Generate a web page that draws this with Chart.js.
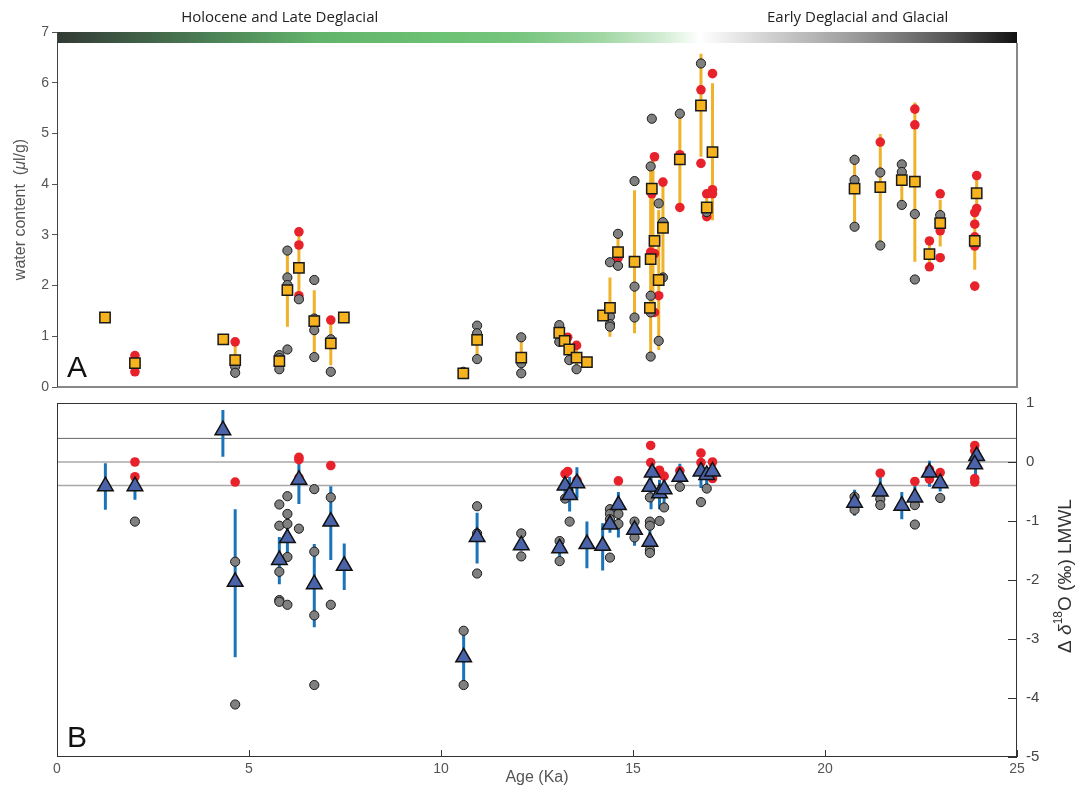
<!DOCTYPE html>
<html>
<head>
<meta charset="utf-8">
<script src="https://cdn.jsdelivr.net/npm/chart.js@4.4.0/dist/chart.umd.min.js"></script>
<style>
  body { margin: 0; background: #fff; width: 1077px; height: 791px; position: relative; overflow: hidden; }
  canvas { position: absolute; left: 0; }
  #chartA { top: 0; }
  #chartB { top: 385px; }
</style>
</head>
<body>
<canvas id="chartA" width="1077" height="400"></canvas>
<canvas id="chartB" width="1077" height="406"></canvas>
<script>
// eixos
const xTicks = [0, 5, 10, 15, 20, 25];
const yTicksA = [0, 1, 2, 3, 4, 5, 6, 7];
const yTicksB = [-5, -4, -3, -2, -1, 0, 1];
const refLevels = [0.4, 0, -0.4];

// painel A - quadrados (média)
const sqAge = [1.25,2.03,4.33,4.64,5.79,6.00,6.30,6.70,7.13,7.47,10.58,10.94,12.09,13.08,13.22,13.34,13.53,13.80,14.22,14.40,
               14.61,15.04,15.49,15.46,15.44,15.56,15.67,15.78,16.22,16.77,17.07,16.92,20.77,21.44,22.00,22.34,22.72,23.00,23.95,23.90];
const sqVal = [1.37,0.47,0.94,0.53,0.51,1.91,2.35,1.30,0.86,1.37,0.27,0.93,0.58,1.07,0.91,0.74,0.58,0.49,1.41,1.56,
               2.66,2.47,3.91,2.52,1.56,2.88,2.11,3.14,4.49,5.55,4.63,3.54,3.91,3.94,4.08,4.05,2.62,3.23,3.82,2.88];

// painel A - barras de erro
const barAAge = [4.64,6.00,6.30,6.70,7.13,10.94,12.09,13.34,13.53,14.40,14.61,15.04,15.46,15.52,15.67,15.78,16.22,16.77,17.07,16.92,20.77,21.44,22.00,22.34,22.72,23.00,23.95,23.90];
const barALo  = [0.50,1.19,1.78,0.55,0.43,0.55,0.45,0.55,0.35,0.99,2.50,1.06,0.60,1.47,0.73,2.20,3.54,4.54,3.29,3.36,3.16,2.79,3.59,2.47,2.37,2.77,3.50,2.31];
const barAHi  = [0.89,2.65,3.06,1.91,1.30,1.21,0.98,0.90,0.80,2.16,3.02,3.88,4.42,4.54,3.49,4.04,5.39,6.57,5.99,3.80,4.58,4.99,4.48,5.61,2.88,3.69,4.17,3.50];

// painel A - amostras cinza e vermelhas
const greyA = [[4.64,0.40],[4.64,0.28],[5.79,0.63],[5.79,0.57],[5.79,0.35],[6.00,0.74],[6.00,2.69],[6.00,2.16],[6.00,2.01],
  [6.30,1.73],[6.70,2.11],[6.70,1.35],[6.70,1.12],[6.70,0.59],[7.13,0.94],[7.13,0.30],[10.58,0.30],[10.94,1.21],[10.94,1.06],
  [10.94,0.55],[12.09,0.98],[12.09,0.27],[12.09,0.47],[13.08,1.22],[13.08,0.89],[13.34,0.53],[13.53,0.35],[14.40,1.39],
  [14.40,1.24],[14.40,1.19],[14.40,2.46],[14.61,3.02],[14.61,2.39],[15.04,4.06],[15.04,1.98],[15.04,1.37],[15.46,4.35],
  [15.46,1.80],[15.46,1.47],[15.46,0.60],[15.49,5.29],[15.67,3.62],[15.67,0.91],[15.78,3.25],[15.78,2.16],[16.22,5.39],
  [16.77,6.38],[16.92,3.45],[20.77,4.48],[20.77,4.08],[20.77,3.16],[21.44,4.23],[21.44,2.79],[22.00,4.39],[22.00,4.24],
  [22.00,3.59],[22.34,3.41],[22.34,2.12],[23.00,3.39]];
const redA = [[2.03,0.62],[2.03,0.30],[4.64,0.89],[6.30,3.06],[6.30,2.80],[6.30,1.80],[7.13,1.32],[13.30,0.98],[13.53,0.82],
  [14.61,2.54],[15.56,4.54],[15.49,3.81],[15.46,2.66],[15.56,2.63],[15.67,1.80],[15.56,1.47],[15.78,4.04],[16.22,4.58],
  [16.22,3.54],[16.77,5.86],[16.77,4.41],[17.07,6.18],[17.07,3.89],[17.07,3.81],[16.92,3.81],[16.92,3.36],[21.44,4.83],
  [22.34,5.48],[22.34,5.17],[22.72,2.88],[22.72,2.37],[23.00,3.81],[23.00,3.08],[23.00,2.55],[23.95,4.17],[23.95,3.52],
  [23.90,3.44],[23.90,3.21],[23.90,2.96],[23.90,2.78],[23.90,1.99]];

// painel B - triângulos (média)
const triAge = [1.26,2.03,4.32,4.64,5.79,6.00,6.30,6.70,7.13,7.48,10.59,10.94,12.09,13.09,13.23,13.35,13.54,13.80,14.21,14.40,
                14.62,15.04,15.44,15.50,15.44,15.69,15.81,16.22,16.77,16.92,17.07,20.77,21.44,22.00,22.34,22.72,23.00,23.95,23.90];
const triVal = [-0.41,-0.41,0.54,-2.03,-1.66,-1.29,-0.30,-2.07,-1.01,-1.76,-3.31,-1.27,-1.41,-1.46,-0.40,-0.56,-0.36,-1.39,-1.42,-1.06,
                -0.73,-1.15,-1.35,-0.18,-0.42,-0.53,-0.46,-0.25,-0.16,-0.22,-0.16,-0.69,-0.50,-0.74,-0.60,-0.18,-0.36,0.10,-0.04];

// painel B - barras de erro
const barBAge = [1.26,2.03,4.32,4.64,5.79,6.00,6.30,6.70,7.13,7.48,10.59,10.94,12.09,13.09,13.23,13.35,13.54,13.80,14.21,14.40,
                 14.62,15.04,15.44,15.47,15.69,15.81,16.22,16.77,16.92,17.07,20.77,21.44,22.00,22.34,22.72,23.00,23.92];
const barBLo  = [-0.81,-0.64,0.09,-3.31,-2.07,-1.55,-0.71,-2.80,-1.66,-2.17,-3.78,-1.72,-1.50,-1.60,-0.62,-0.84,-0.62,-1.80,-1.84,-1.20,
                 -1.28,-1.42,-1.50,-0.80,-0.80,-0.70,-0.42,-0.44,-0.45,-0.35,-0.91,-0.73,-0.97,-0.80,-0.42,-0.50,-0.28];
const barBHi  = [-0.02,-0.28,0.88,-0.80,-1.27,-0.92,-0.02,-1.39,-0.41,-1.38,-2.86,-0.86,-1.30,-1.27,-0.20,-0.25,-0.09,-1.01,-1.04,-0.90,
                 -0.51,-1.00,-1.10,-0.10,-0.30,-0.30,-0.03,-0.01,-0.20,-0.05,-0.47,-0.23,-0.51,-0.40,0.02,-0.25,0.19];

// painel B - amostras cinza e vermelhas
const greyB = [[2.03,-1.01],[4.64,-1.69],[4.64,-4.11],[5.79,-0.72],[5.79,-1.08],[5.79,-1.86],[5.79,-2.34],[5.79,-2.37],
  [6.00,-0.58],[6.00,-0.88],[6.00,-1.05],[6.00,-1.61],[6.00,-2.42],[6.30,-1.13],[6.70,-0.46],[6.70,-1.52],[6.70,-2.60],
  [6.70,-3.78],[7.13,-0.60],[7.13,-2.42],[10.59,-2.86],[10.59,-3.78],[10.94,-0.75],[10.94,-1.21],[10.94,-1.89],[12.09,-1.21],
  [12.09,-1.60],[13.09,-1.34],[13.09,-1.68],[13.23,-0.62],[13.35,-1.01],[14.40,-0.80],[14.40,-0.88],[14.40,-0.97],[14.40,-1.62],
  [14.62,-0.88],[14.62,-1.05],[15.04,-1.01],[15.04,-1.28],[15.44,-1.01],[15.44,-1.08],[15.44,-1.49],[15.44,-1.54],[15.44,-0.60],
  [15.69,-1.00],[15.81,-0.77],[15.81,-0.45],[16.22,-0.42],[16.77,-0.68],[16.92,-0.45],[20.77,-0.59],[20.77,-0.81],[21.44,-0.63],
  [21.44,-0.73],[22.34,-0.73],[22.34,-1.06],[23.00,-0.61]];
const redB = [[2.03,0.00],[2.03,-0.25],[4.64,-0.34],[6.30,0.08],[6.30,0.04],[6.30,-0.27],[7.13,-0.06],[13.23,-0.20],[13.30,-0.16],
  [13.54,-0.31],[14.62,-0.32],[15.46,0.28],[15.46,-0.01],[15.69,-0.14],[15.81,-0.24],[16.22,-0.15],[16.77,0.15],[16.77,-0.01],
  [17.07,0.00],[17.07,-0.28],[21.44,-0.19],[22.34,-0.33],[22.72,-0.13],[22.72,-0.29],[23.00,-0.18],[23.90,0.28],[23.90,0.19],
  [23.90,-0.28],[23.90,-0.34]];

// helpers
function pts(pairs) { return pairs.map(p => ({ x: p[0], y: p[1] })); }
function zip(xs, ys) { return xs.map((x, i) => ({ x: x, y: ys[i] })); }
function bars(age, lo, hi) {
  const d = [];
  age.forEach((a, i) => { d.push({ x: a, y: lo[i] }, { x: a, y: hi[i] }, { x: a, y: null }); });
  return d;
}
function fixTicks(list) { return scale => { scale.ticks = list.map(v => ({ value: v })); }; }

const FONT = '"Liberation Sans", Arial, sans-serif';

function drawRotated(ctx, cx, cy, parts) {
  // parts: [texto, fonte, deslocamento vertical]
  ctx.save();
  ctx.translate(cx, cy);
  ctx.rotate(-Math.PI / 2);
  let w = 0;
  parts.forEach(p => { ctx.font = p[1]; w += ctx.measureText(p[0]).width; });
  let x = -w / 2;
  ctx.textAlign = 'left';
  ctx.textBaseline = 'middle';
  parts.forEach(p => { ctx.font = p[1]; ctx.fillText(p[0], x, p[2]); x += ctx.measureText(p[0]).width; });
  ctx.restore();
}

// plugin do painel A: barra de gradiente, moldura, títulos
const painelA = {
  id: 'painelA',
  afterDraw(chart) {
    const { ctx, chartArea: a, scales: { x } } = chart;
    ctx.save();
    const g = ctx.createLinearGradient(a.left, 0, a.right, 0);
    g.addColorStop(0.00, '#333a35');
    g.addColorStop(0.15, '#4a7c54');
    g.addColorStop(0.27, '#62b36b');
    g.addColorStop(0.40, '#6bc174');
    g.addColorStop(0.48, '#76c57e');
    g.addColorStop(0.57, '#a2d7a5');
    g.addColorStop(0.63, '#d2ecd3');
    g.addColorStop(0.67, '#ffffff');
    g.addColorStop(0.74, '#d2d2d2');
    g.addColorStop(0.83, '#9c9c9c');
    g.addColorStop(0.93, '#555555');
    g.addColorStop(1.00, '#111111');
    ctx.fillStyle = g;
    ctx.fillRect(a.left, a.top, a.right - a.left, 11);

    ctx.strokeStyle = '#888';
    ctx.lineWidth = 2;
    ctx.beginPath();
    ctx.moveTo(a.left, a.bottom);
    ctx.lineTo(a.right, a.bottom);
    ctx.lineTo(a.right, a.top + 11);
    ctx.stroke();
    ctx.strokeStyle = '#444';
    ctx.lineWidth = 1;
    ctx.beginPath();
    ctx.moveTo(a.left + 0.5, a.top);
    ctx.lineTo(a.left + 0.5, a.bottom);
    ctx.stroke();

    ctx.fillStyle = '#222';
    ctx.font = '15px "Open Sans", sans-serif';
    ctx.textAlign = 'center';
    ctx.textBaseline = 'middle';
    ctx.fillText('Holocene and Late Deglacial', x.getPixelForValue(5.8), 18);
    ctx.fillText('Early Deglacial and Glacial', x.getPixelForValue(20.85), 18);

    ctx.fillStyle = '#111';
    ctx.font = '30px ' + FONT;
    ctx.textAlign = 'left';
    ctx.textBaseline = 'alphabetic';
    ctx.fillText('A', a.left + 10, a.bottom - 10);

    ctx.fillStyle = '#555';
    drawRotated(ctx, 21, (a.top + a.bottom) / 2, [
      ['water content  (', '16px ' + FONT, 0],
      ['\u03bc', 'italic 16px ' + FONT, 0],
      ['l/g)', '16px ' + FONT, 0]
    ]);
    ctx.restore();
  }
};

// plugin do painel B: moldura, marcas internas, rótulos
const painelB = {
  id: 'painelB',
  afterDraw(chart) {
    const { ctx, chartArea: a, scales: { x, y } } = chart;
    ctx.save();
    ctx.strokeStyle = '#333';
    ctx.lineWidth = 1;
    ctx.strokeRect(a.left + 0.5, a.top + 0.5, a.right - a.left - 1, a.bottom - a.top - 1);
    ctx.beginPath();
    xTicks.forEach(v => {
      const px = Math.round(x.getPixelForValue(v)) + 0.5;
      ctx.moveTo(px, a.bottom); ctx.lineTo(px, a.bottom - 7);
    });
    yTicksB.forEach(v => {
      const py = Math.round(y.getPixelForValue(v)) + 0.5;
      ctx.moveTo(a.right, py); ctx.lineTo(a.right - 9, py);
    });
    ctx.stroke();

    ctx.fillStyle = '#111';
    ctx.font = '30px ' + FONT;
    ctx.textAlign = 'left';
    ctx.textBaseline = 'alphabetic';
    ctx.fillText('B', a.left + 10, a.bottom - 10);

    ctx.fillStyle = '#555';
    ctx.font = '16px ' + FONT;
    ctx.textAlign = 'center';
    ctx.textBaseline = 'middle';
    ctx.fillText('Age (Ka)', (a.left + a.right) / 2, a.bottom + 21);

    ctx.fillStyle = '#333';
    drawRotated(ctx, 1066, (a.top + a.bottom) / 2 - 4, [
      ['\u0394 ', '19px ' + FONT, 0],
      ['\u03b4', 'italic 19px ' + FONT, 0],
      ['18', '12px ' + FONT, -7],
      ['O (\u2030) LMWL', '19px ' + FONT, 0]
    ]);
    ctx.restore();
  }
};

const baseX = {
  type: 'linear', min: 0, max: 25,
  afterBuildTicks: fixTicks(xTicks),
  grid: { display: false, drawTicks: false },
  border: { display: false }
};

const chartA = new Chart(document.getElementById('chartA'), {
  type: 'scatter',
  data: {
    datasets: [
      { data: zip(sqAge, sqVal), pointStyle: 'rect', pointRadius: 7.3, backgroundColor: '#f6b31d', borderColor: '#1a1a1a', borderWidth: 1.5, order: 0 },
      { data: pts(greyA), pointRadius: 4.6, backgroundColor: '#808080', borderColor: '#1a1a1a', borderWidth: 1, order: 1 },
      { data: pts(redA), pointRadius: 4.8, backgroundColor: '#e8222b', borderWidth: 0, order: 2 },
      { data: bars(barAAge, barALo, barAHi), showLine: true, spanGaps: false, pointRadius: 0, borderColor: '#efb22a', borderWidth: 3, order: 3 }
    ]
  },
  options: {
    responsive: false,
    animation: false,
    devicePixelRatio: 1,
    layout: { padding: { top: 32, right: 60, left: 0, bottom: 0 } },
    plugins: { legend: { display: false }, tooltip: { enabled: false } },
    scales: {
      x: Object.assign({}, baseX, {
        ticks: { display: false },
        afterFit: s => { s.height = 13; }
      }),
      y: {
        type: 'linear', min: 0, max: 7,
        afterBuildTicks: fixTicks(yTicksA),
        afterFit: s => { s.width = 57; },
        ticks: { color: '#555', font: { family: FONT, size: 14 }, padding: 3 },
        grid: { display: true, drawOnChartArea: false, drawTicks: true, tickLength: 5, color: '#555' },
        border: { display: false }
      }
    }
  },
  plugins: [painelA]
});

const refSets = refLevels.map((v, i) => ({
  data: [{ x: 0, y: v }, { x: 25, y: v }],
  showLine: true, pointRadius: 0, borderWidth: i === 0 ? 1 : 1.5,
  borderColor: i === 0 ? '#666' : '#a8a8a8', order: 5
}));

const chartB = new Chart(document.getElementById('chartB'), {
  type: 'scatter',
  data: {
    datasets: [
      { data: zip(triAge, triVal), pointStyle: 'triangle', pointRadius: 9, backgroundColor: '#4a63a9', borderColor: '#111', borderWidth: 1.5, order: 0 },
      { data: pts(greyB), pointRadius: 4.6, backgroundColor: '#808080', borderColor: '#1a1a1a', borderWidth: 1, order: 1 },
      { data: pts(redB), pointRadius: 4.8, backgroundColor: '#e8222b', borderWidth: 0, order: 2 },
      { data: bars(barBAge, barBLo, barBHi), showLine: true, spanGaps: false, pointRadius: 0, borderColor: '#1b73b9', borderWidth: 3, order: 3 }
    ].concat(refSets)
  },
  options: {
    responsive: false,
    animation: false,
    devicePixelRatio: 1,
    layout: { padding: { top: 0, right: 0, left: 57, bottom: 0 } },
    plugins: { legend: { display: false }, tooltip: { enabled: false } },
    scales: {
      x: Object.assign({}, baseX, {
        ticks: { color: '#555', font: { family: FONT, size: 14 }, padding: 4, maxRotation: 0 },
        afterFit: s => { s.height = 34; }
      }),
      y: {
        type: 'linear', position: 'right', min: -5, max: 1,
        afterBuildTicks: fixTicks(yTicksB),
        afterFit: s => { s.width = 60; },
        ticks: { color: '#444', font: { family: FONT, size: 15 }, padding: 9 },
        grid: { display: false, drawTicks: false },
        border: { display: false }
      }
    }
  },
  plugins: [painelB]
});
</script>
</body>
</html>
